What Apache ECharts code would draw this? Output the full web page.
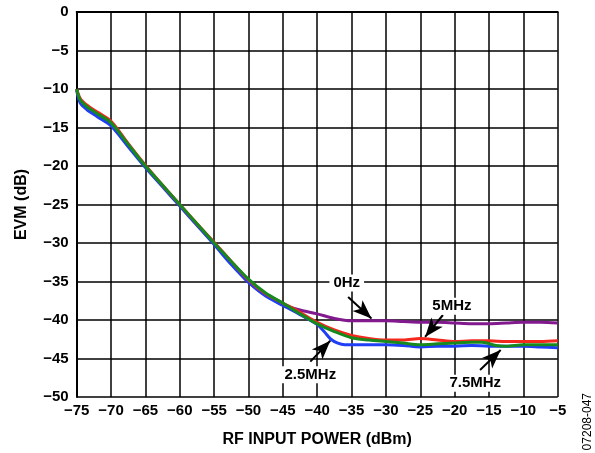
<!DOCTYPE html>
<html><head><meta charset="utf-8">
<script src="https://cdn.jsdelivr.net/npm/echarts@6/dist/echarts.min.js"></script>
<style>html,body{margin:0;padding:0;background:#fff}#c{width:595px;height:453px}</style>
</head><body><div id="c"></div>
<script>
const xTicks = [-75,-70,-65,-60,-55,-50,-45,-40,-35,-30,-25,-20,-15,-10,-5];
const yTicks = [0,-5,-10,-15,-20,-25,-30,-35,-40,-45,-50];

const xPts = [-75,-74.5,-73.5,-72,-70,-67.5,-65,-62.5,-60,-57.5,-55,-52.5,-50,-47.5,-45,-42.5,-40,-37.5,-35,-32.5,-30,-27.5,-25,-22.5,-20,-17.5,-15,-12.5,-10,-7.5,-5];
const evm0Hz   = [-10,-11.5,-12.4,-13.3,-14.5,-17.3,-20.1,-22.6,-25.1,-27.6,-30.1,-32.6,-35.1,-36.8,-38.0,-38.7,-39.2,-39.8,-40.1,-40.1,-40.1,-40.2,-40.3,-40.3,-40.4,-40.5,-40.5,-40.4,-40.3,-40.3,-40.4];
const xBlue = [-75,-74.5,-73.5,-72,-70,-67.5,-65,-62.5,-60,-57.5,-55,-52.5,-50,-47.5,-45,-42.5,-40,-39,-38,-37,-36,-35,-32.5,-30,-27.5,-25,-22.5,-20,-17.5,-15,-12.5,-10,-7.5,-5];
const evm2_5MHz = [-10.2,-11.8,-12.7,-13.6,-14.8,-17.5,-20.2,-22.7,-25.2,-27.7,-30.2,-32.8,-35.1,-36.9,-38.1,-39.3,-40.6,-41.5,-42.5,-43.0,-43.2,-43.2,-43.2,-43.2,-43.3,-43.5,-43.4,-43.4,-43.3,-43.4,-43.4,-43.4,-43.5,-43.6];
const evm5MHz  = [-10,-11.2,-12.1,-13.0,-14.2,-17.1,-19.9,-22.5,-25.0,-27.5,-29.9,-32.4,-34.8,-36.6,-37.8,-39.0,-40.3,-41.3,-42.0,-42.4,-42.6,-42.6,-42.4,-42.6,-42.8,-42.7,-42.7,-42.8,-42.8,-42.8,-42.7];
const xGreen = [-75,-74.5,-73.5,-72,-70,-67.5,-65,-62.5,-60,-57.5,-55,-52.5,-50,-47.5,-45,-42.5,-40,-37.5,-35,-32.5,-30,-27.5,-25,-22.5,-20,-17.5,-16,-14,-12.5,-10,-7.5,-5];
const evm7_5MHz = [-10,-11.4,-12.3,-13.2,-14.4,-17.2,-20.0,-22.5,-25.0,-27.5,-30.0,-32.4,-34.7,-36.5,-37.8,-39.2,-40.5,-41.5,-42.3,-42.6,-42.8,-43.0,-43.2,-43.1,-43.0,-42.9,-42.9,-43.3,-43.4,-43.2,-43.2,-43.2];

const labels = [
  {text:'0Hz', at:[-35.7,-35.2], from:[-35.5,-37.0], to:[-32.1,-39.8]},
  {text:'5MHz', at:[-20.4,-38.2], from:[-21.7,-39.35], to:[-24.3,-42.2]},
  {text:'2.5MHz', at:[-41.0,-47.1], from:[-41.0,-45.4], to:[-38.1,-42.7]},
  {text:'7.5MHz', at:[-17.0,-48.2], from:[-16.3,-46.5], to:[-13.3,-43.9]}
];

const zip = (xs, ys) => xs.map((x,i)=>[x, ys[i]]);
const fmt = v => v === 0 ? '0' : String(v).replace('-', '\u2212');
const font = 'Liberation Sans, Arial, sans-serif';

const mk = (name, data, color) => ({
  name, type:'line', data, smooth:0.3, symbol:'none',
  lineStyle:{color, width:3}, z:3
});

const chart = echarts.init(document.getElementById('c'));
chart.setOption({
  animation:false,
  backgroundColor:'#fff',
  grid:{left:76.7, right:37.3, top:12, bottom:56},
  xAxis:{
    type:'value', min:-75, max:-5, interval:5,
    axisLine:{show:true, lineStyle:{color:'#000', width:2}},
    axisTick:{show:false},
    splitLine:{show:true, lineStyle:{color:'#000', width:1.5}},
    axisLabel:{formatter:fmt, color:'#000', fontFamily:font, fontWeight:'bold', fontSize:15, margin:6},
    name:'RF INPUT POWER (dBm)', nameLocation:'middle', nameGap:35,
    nameTextStyle:{color:'#000', fontFamily:font, fontWeight:'bold', fontSize:16}
  },
  yAxis:{
    type:'value', min:-50, max:0, interval:5,
    axisLine:{show:true, lineStyle:{color:'#000', width:2}},
    axisTick:{show:false},
    splitLine:{show:true, lineStyle:{color:'#000', width:1.5}},
    axisLabel:{formatter:fmt, color:'#000', fontFamily:font, fontWeight:'bold', fontSize:15, margin:8},
    name:'EVM (dB)', nameLocation:'middle', nameGap:47,
    nameTextStyle:{color:'#000', fontFamily:font, fontWeight:'bold', fontSize:16}
  },
  series:[
    mk('0Hz', zip(xPts, evm0Hz), '#82198e'),
    mk('2.5MHz', zip(xBlue, evm2_5MHz), '#1f3ef5'),
    mk('5MHz', zip(xPts, evm5MHz), '#f5281e'),
    mk('7.5MHz', zip(xGreen, evm7_5MHz), '#178a1e'),
    {
      type:'line', data:[], z:5, silent:true,
      markLine:{
        silent:true, symbol:['none','arrow'], symbolSize:[11,19],
        lineStyle:{color:'#000', width:2, type:'solid'}, label:{show:false},
        data: labels.map(l => [{coord:l.from}, {coord:l.to}])
      },
      markPoint:{
        silent:true, symbol:'rect', symbolSize:1,
        itemStyle:{color:'rgba(0,0,0,0)'},
        label:{show:true, position:'inside', color:'#000', fontFamily:font, fontWeight:'bold', fontSize:15,
               backgroundColor:'#fff', padding:[1,4]},
        data: labels.map(l => ({coord:l.at, value:l.text, label:{formatter:l.text}}))
      }
    }
  ],
  graphic:[{
    type:'text', left:582, top:393, rotation:Math.PI/2,
    style:{text:'07208-047', fill:'#000', font:'12px ' + font}
  }]
});
</script></body></html>
